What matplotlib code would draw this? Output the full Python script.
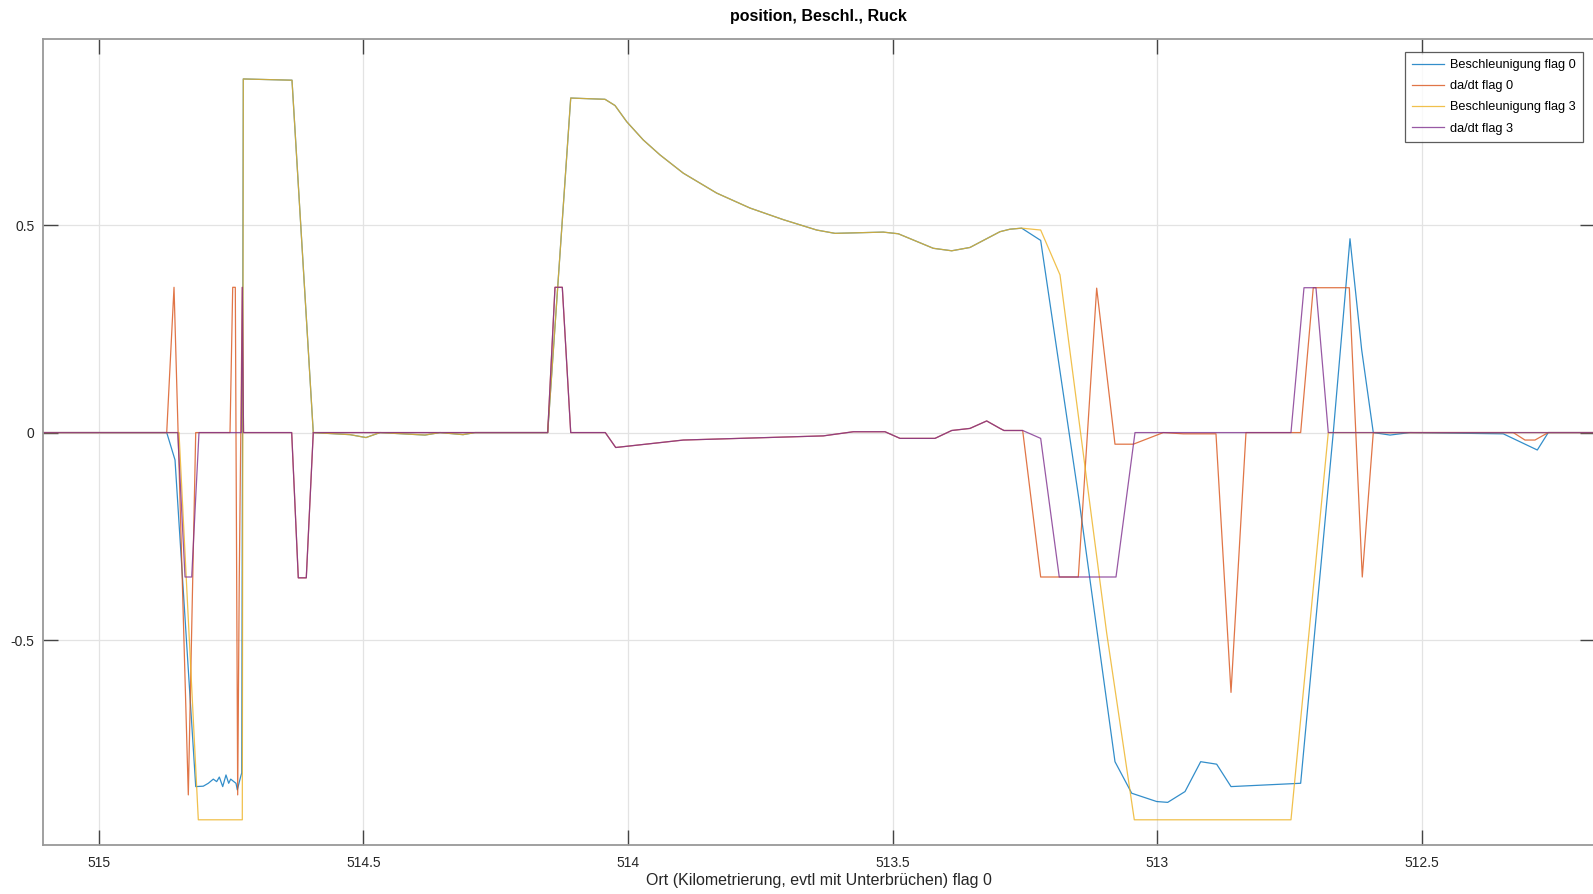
import matplotlib
matplotlib.use("Agg")
import matplotlib.pyplot as plt

# Ort in km (Achse läuft rückwärts)
km_b0 = [515.106, 514.8715, 514.8558, 514.8167, 514.8024, 514.7929, 514.7835, 514.7771,
         514.7721, 514.7657, 514.7595, 514.7544, 514.7506, 514.7457, 514.7406, 514.7381,
         514.7330, 514.7298, 514.7268, 514.6348, 514.5946, 514.5252, 514.4950, 514.4685,
         514.3835, 514.3552, 514.3117, 514.2891, 514.1517, 514.1082, 514.0434, 514.0245,
         514.0024, 513.9711, 513.9395, 513.8955, 513.8324, 513.7695, 513.7066, 513.6435,
         513.6089, 513.5177, 513.4893, 513.4232, 513.3884, 513.3539, 513.2972, 513.2783,
         513.2562, 513.2203, 513.1479, 513.0799, 513.0483, 513.0011, 512.9803, 512.9476,
         512.9180, 512.8878, 512.8607, 512.7291, 512.6675, 512.6359, 512.6138, 512.5919,
         512.5603, 512.5226, 512.3463, 512.2820, 512.2613, 512.160]
acc_flag0 = [0, 0, -0.066, -0.853, -0.852, -0.845, -0.835, -0.841, -0.830, -0.853, -0.825,
             -0.845, -0.835, -0.840, -0.845, -0.861, -0.835, -0.820, 0.852, 0.849, 0, -0.005,
             -0.012, 0, -0.006, 0, -0.005, 0, 0, 0.806, 0.803, 0.788, 0.749, 0.705, 0.669,
             0.625, 0.577, 0.541, 0.513, 0.488, 0.480, 0.483, 0.479, 0.444, 0.438, 0.446,
             0.484, 0.490, 0.4925, 0.463, -0.162, -0.793, -0.869, -0.889, -0.891, -0.865,
             -0.793, -0.799, -0.853, -0.845, 0, 0.467, 0.199, 0, -0.006, 0, -0.003, -0.042,
             0, 0]

km_j0 = [515.106, 514.8715, 514.8577, 514.8307, 514.8167, 514.7519, 514.7468, 514.7419,
         514.7374, 514.7344, 514.7287, 514.7264, 514.6354, 514.6229, 514.6078, 514.5946,
         514.1517, 514.1379, 514.1241, 514.1082, 514.0429, 514.0232, 513.8955, 513.6310,
         513.5743, 513.5144, 513.4861, 513.4200, 513.3884, 513.3539, 513.3223, 513.2972,
         513.2896, 513.2543, 513.2203, 513.1492, 513.1145, 513.0799, 513.0453, 512.9886,
         512.9509, 512.8891, 512.8607, 512.8324, 512.7291, 512.7053, 512.6372, 512.6127,
         512.5919, 512.3274, 512.3053, 512.2864, 512.2613, 512.160]
jerk_flag0 = [0, 0, 0.35, -0.873, 0, 0, 0.35, 0.35, -0.873, -0.35, 0.35, 0, 0, -0.35, -0.35,
              0, 0, 0.35, 0.35, 0, 0, -0.036, -0.018, -0.008, 0.002, 0.002, -0.014, -0.014,
              0.005, 0.010, 0.028, 0.010, 0.005, 0.005, -0.348, -0.348, 0.348, -0.028, -0.028,
              0, -0.003, -0.003, -0.626, 0, 0, 0.349, 0.349, -0.348, 0, 0, -0.018, -0.018, 0, 0]

km_b3 = [515.106, 514.8483, 514.8118, 514.7287, 514.7268, 514.6348, 514.5946, 514.5252,
         514.4950, 514.4685, 514.3835, 514.3552, 514.3117, 514.2891, 514.1517, 514.1082,
         514.0434, 514.0245, 514.0024, 513.9711, 513.9395, 513.8955, 513.8324, 513.7695,
         513.7066, 513.6435, 513.6089, 513.5177, 513.4893, 513.4232, 513.3884, 513.3539,
         513.2972, 513.2783, 513.2562, 513.2203, 513.1838, 513.0956, 513.0434, 512.7474,
         512.6769, 512.160]
acc_flag3 = [0, 0, -0.933, -0.933, 0.852, 0.849, 0, -0.005, -0.012, 0, -0.006, 0, -0.005, 0,
             0, 0.806, 0.803, 0.788, 0.749, 0.705, 0.669, 0.625, 0.577, 0.541, 0.513, 0.488,
             0.480, 0.483, 0.479, 0.444, 0.438, 0.446, 0.484, 0.490, 0.4925, 0.488, 0.380,
             -0.483, -0.933, -0.933, 0, 0]

km_j3 = [515.106, 514.8507, 514.8369, 514.8243, 514.8105, 514.7306, 514.7287, 514.7264,
         514.6354, 514.6229, 514.6078, 514.5946, 514.1517, 514.1379, 514.1241, 514.1082,
         514.0429, 514.0232, 513.8955, 513.6310, 513.5743, 513.5144, 513.4861, 513.4200,
         513.3884, 513.3539, 513.3223, 513.2972, 513.2896, 513.2543, 513.2203, 513.1852,
         513.0780, 513.0421, 512.7474, 512.7228, 512.7002, 512.6769, 512.160]
jerk_flag3 = [0, 0, -0.348, -0.348, 0, 0, 0.35, 0, 0, -0.35, -0.35, 0, 0, 0.35, 0.35, 0, 0,
              -0.036, -0.018, -0.008, 0.002, 0.002, -0.014, -0.014, 0.005, 0.010, 0.028,
              0.010, 0.005, 0.005, -0.014, -0.348, -0.348, 0, 0, 0.349, 0.349, 0, 0]

x_ticks = [515, 514.5, 514, 513.5, 513, 512.5]
x_labels = ["515", "514.5", "514", "513.5", "513", "512.5"]
y_ticks = [-0.5, 0, 0.5]
y_labels = ["-0.5", "0", "0.5"]

plt.rcParams['font.family'] = ['Liberation Sans', 'DejaVu Sans']

W, H = 1593, 894
fig = plt.figure(figsize=(W / 100, H / 100), dpi=100)
ax = fig.add_axes([42.7 / W, (H - 844.7) / H, (1595 - 42.7) / W, (844.7 - 38.7) / H])

lw = 0.9
al = 0.8
ax.plot(km_b0, acc_flag0, color='#0072BD', lw=lw, alpha=al, label='Beschleunigung flag 0')
ax.plot(km_j0, jerk_flag0, color='#D95319', lw=lw, alpha=al, label='da/dt flag 0')
ax.plot(km_b3, acc_flag3, color='#EDB120', lw=lw, alpha=al, label='Beschleunigung flag 3')
ax.plot(km_j3, jerk_flag3, color='#7E2F8E', lw=lw, alpha=al, label='da/dt flag 3')

ax.set_xlim(515.1058, 512.173)
ax.set_ylim(-0.993, 0.949)
ax.set_xticks(x_ticks)
ax.set_xticklabels(x_labels)
ax.set_yticks(y_ticks)
ax.set_yticklabels(y_labels)

ax.grid(True, color='#e3e3e3', lw=0.9)
ax.set_axisbelow(True)
for sp in ax.spines.values():
    sp.set_color('#999999')
    sp.set_linewidth(1.3)
ax.tick_params(direction='in', length=10.5, width=1.0, color='#444444',
               top=True, right=True, labelsize=10, labelcolor='#262626')
ax.tick_params(axis='x', pad=8)
ax.tick_params(axis='y', pad=6)

ax.set_title('position, Beschl., Ruck', fontsize=11.5, fontweight='bold', pad=13)
ax.set_xlabel('Ort (Kilometrierung, evtl mit Unterbrüchen) flag 0', fontsize=11.5,
              color='#262626', labelpad=2)

leg = ax.legend(loc='upper right', bbox_to_anchor=(1583 / W, 1 - 52 / H),
                bbox_transform=fig.transFigure, fontsize=9.2, frameon=True, fancybox=False,
                handlelength=2.5, handletextpad=0.5, labelspacing=0.72, borderpad=0.55,
                borderaxespad=0)
leg.get_frame().set_edgecolor('#333333')
leg.get_frame().set_linewidth(0.9)

fig.savefig('out.png', dpi=100)
